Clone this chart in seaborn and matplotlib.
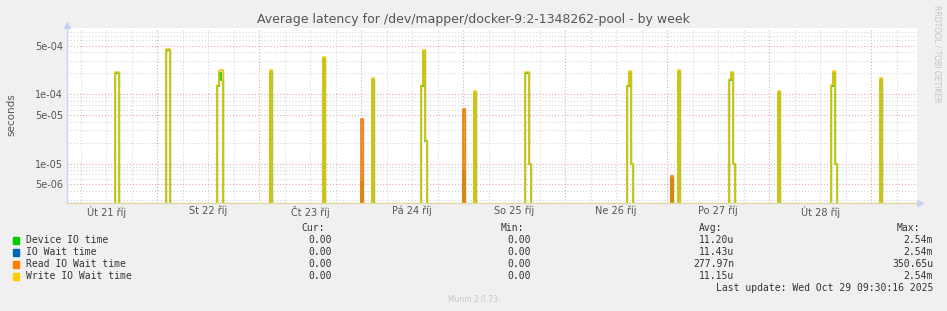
import matplotlib
matplotlib.use("Agg")
import matplotlib.pyplot as plt
import numpy as np
import pandas as pd
import seaborn as sns

# rrd samples (30 min steps), hours counted from Út 21 říj 00:00
spike_hours   = [14.0, 14.5, 26.0, 26.5, 38.0, 38.5, 39.0, 50.5, 63.0, 72.0,
                 74.5, 86.0, 86.5, 87.0, 96.0, 98.5, 110.5, 111.0, 111.5,
                 134.5, 135.0, 135.5, 145.0, 146.5, 158.5, 159.0, 159.5,
                 170.0, 182.5, 183.0, 183.5, 194.0]
write_io_wait = [2.1e-4, 2.1e-4, 4.5e-4, 4.5e-4, 1.35e-4, 2.2e-4, 2.2e-4, 2.2e-4, 3.4e-4, 0,
                 1.7e-4, 1.35e-4, 4.4e-4, 2.2e-5, 0, 1.1e-4, 2.1e-4, 2.1e-4, 1.0e-5,
                 1.35e-4, 2.15e-4, 1.0e-5, 0, 2.2e-4, 1.63e-4, 2.1e-4, 1.0e-5,
                 1.1e-4, 1.35e-4, 2.15e-4, 1.0e-5, 1.7e-4]
device_io     = [2.0e-4, 2.0e-4, 4.3e-4, 4.3e-4, 1.3e-4, 2.0e-4, 1.6e-4, 2.1e-4, 3.2e-4, 5.4e-6,
                 1.6e-4, 1.3e-4, 4.2e-4, 2.1e-5, 7.7e-6, 1.05e-4, 2.0e-4, 2.0e-4, 1.0e-5,
                 1.3e-4, 2.0e-4, 1.0e-5, 6.0e-6, 2.1e-4, 1.6e-4, 2.0e-4, 1.0e-5,
                 1.05e-4, 1.3e-4, 2.0e-4, 1.0e-5, 1.6e-4]
read_io_wait  = [0, 0, 0, 0, 0, 0, 0, 0, 0, 4.35e-5,
                 0, 0, 0, 0, 6.1e-5, 0, 0, 0, 0,
                 0, 0, 0, 6.7e-6, 0, 0, 0, 0,
                 0, 0, 0, 0, 0]
io_wait       = [w + r for w, r in zip(write_io_wait, read_io_wait)]

series_names  = ["Device IO time", "IO Wait time", "Read IO Wait time", "Write IO Wait time"]
series_colors = ["#00cc00", "#0066b3", "#ff8000", "#ffcc00"]
cur_vals = ["0.00", "0.00", "0.00", "0.00"]
min_vals = ["0.00", "0.00", "0.00", "0.00"]
avg_vals = ["11.20u", "11.43u", "277.97n", "11.15u"]
max_vals = ["2.54m", "2.54m", "350.65u", "2.54m"]

day_labels = ["Út 21 říj", "St 22 říj", "Čt 23 říj", "Pá 24 říj",
              "So 25 říj", "Ne 26 říj", "Po 27 říj", "Út 28 říj"]
ytick_vals = [5e-4, 1e-4, 5e-5, 1e-5, 5e-6]
ytick_labels = ["5e-04", "1e-04", "5e-05", "1e-05", "5e-06"]

X_MIN, X_MAX = 2.8, 202.8
Y_MIN, Y_MAX = 2.7e-6, 9.0e-4

# full series on the rrd grid, zero between the spikes
grid = np.arange(2.5, 203.5, 0.5)
rows = []
for name, vals in zip(series_names, [device_io, io_wait, read_io_wait, write_io_wait]):
    lookup = dict(zip(spike_hours, vals))
    for h in grid:
        rows.append({"hour": h, "series": name, "value": lookup.get(float(h), 0.0)})
df = pd.DataFrame(rows)
# zeros sit just under the log axis floor
df["plot_val"] = df["value"].clip(lower=Y_MIN * 0.97)

sns.set_theme(style="white")
plt.rcParams["font.family"] = ["DejaVu Sans"]

fig = plt.figure(figsize=(9.47, 3.11), dpi=100, facecolor="#f0f0f0")
ax = fig.add_axes([67 / 947, 1 - 203 / 311, 850 / 947, 175 / 311])
ax.set_facecolor("white")
ax.set_yscale("log")
ax.set_xlim(X_MIN, X_MAX)
ax.set_ylim(Y_MIN, Y_MAX)

# grid: red at days / 1,5 multiples, grey otherwise
dots = (0, (1, 2))
for h in range(0, 210, 6):
    if X_MIN < h < X_MAX:
        c = "#e0a4a4" if h % 24 == 0 else "#d4d4d4"
        ax.axvline(h, color=c, lw=0.75, ls=dots, zorder=0)
for dec in [1e-6, 1e-5, 1e-4, 1e-3]:
    for m in range(1, 10):
        v = m * dec
        if Y_MIN < v < Y_MAX:
            c = "#e0a4a4" if m in (1, 5) else "#d4d4d4"
            ax.axhline(v, color=c, lw=0.75, ls=dots, zorder=0)

widths = [1.5, 1.0, 1.2, 1.1]
alphas = [0.8, 0.5, 1.0, 1.0]
for name, col, lw, a in zip(series_names, series_colors, widths, alphas):
    sns.lineplot(data=df[df["series"] == name], x="hour", y="plot_val",
                 color=col, lw=lw, alpha=a, estimator=None, drawstyle="steps-post",
                 ax=ax, legend=False, zorder=3)

ax.set_xticks([24 * i + 12 for i in range(len(day_labels))])
ax.set_xticklabels(day_labels)
ax.set_yticks(ytick_vals)
ax.set_yticklabels(ytick_labels)
ax.minorticks_off()
ax.tick_params(axis="both", length=0, labelsize=7, colors="#555555", pad=3)
ax.tick_params(axis="x", pad=2)
ax.set_xlabel("")
ax.set_ylabel("")

for s in ["top", "right"]:
    ax.spines[s].set_visible(False)
ax.spines["left"].set_color("#cdd3f0")
ax.spines["bottom"].set_color("#e2d7a6")
for s in ["left", "bottom"]:
    ax.spines[s].set_linewidth(1.0)
    ax.spines[s].set_zorder(4)
ax.plot([0], [1.015], marker="^", color="#c8d0f4", ms=4, transform=ax.transAxes, clip_on=False)
ax.plot([1.004], [0], marker=">", color="#c8d0f4", ms=4, transform=ax.transAxes, clip_on=False)

fig.text(473 / 947, 1 - 19 / 311, "Average latency for /dev/mapper/docker-9:2-1348262-pool - by week",
         ha="center", va="center", fontsize=9.0, color="#555555")
fig.text(11 / 947, 1 - 115 / 311, "seconds", rotation=90, ha="center", va="center",
         fontsize=7.5, color="#555555")
fig.text(937 / 947, 1 - 5 / 311, "RRDTOOL / TOBI OETIKER", rotation=270, ha="center", va="top",
         fontsize=5.5, color="#c4c4c4")

# legend table
mono = dict(family="DejaVu Sans Mono", fontsize=7, color="#333333", va="center")
for x, head in zip([325, 524, 722, 920], ["Cur:", "Min:", "Avg:", "Max:"]):
    fig.text(x / 947, 1 - 228 / 311, head, ha="right", **mono)
for i, name in enumerate(series_names):
    y = 1 - (240 + 12 * i) / 311
    fig.patches.append(plt.Rectangle((13 / 947, y - 3.5 / 311), 6 / 947, 7 / 311,
                                     transform=fig.transFigure, color=series_colors[i]))
    fig.text(26 / 947, y, name, ha="left", **mono)
    for x, vals in zip([332, 531, 734, 933], [cur_vals, min_vals, avg_vals, max_vals]):
        fig.text(x / 947, y, vals[i], ha="right", **mono)
fig.text(933 / 947, 1 - 288 / 311, "Last update: Wed Oct 29 09:30:16 2025", ha="right", **mono)
fig.text(473 / 947, 1 - 300 / 311, "Munin 2.0.73", ha="center", va="center",
         fontsize=5.5, color="#c8c8c8")

fig.savefig("out.png", dpi=100, facecolor=fig.get_facecolor())
